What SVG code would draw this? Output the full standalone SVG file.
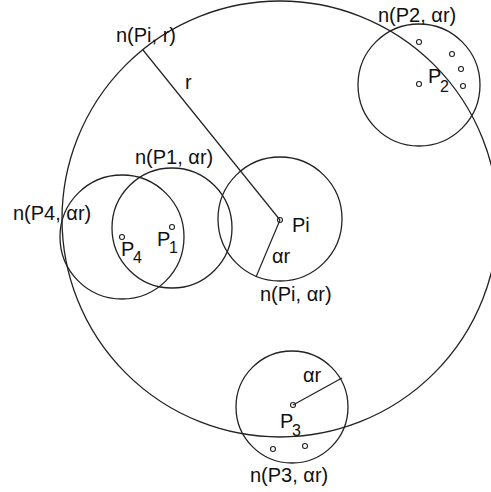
<svg xmlns="http://www.w3.org/2000/svg" width="491" height="492" viewBox="0 0 491 492">
<style>
.c{fill:none;stroke:#222;stroke-width:1.3}
.d{fill:#fff;stroke:#222;stroke-width:1.1}
.l{stroke:#222;stroke-width:1.2;fill:none}
text{font-family:"Liberation Sans",Arial,sans-serif;font-size:20px;fill:#111}
.s{font-size:16px}
</style>
<rect width="491" height="492" fill="#fff"/>
<g id="node-Pi-r">
<circle class="c" cx="280" cy="219" r="218"/>
<text x="116" y="42">n(Pi, r)</text>
</g>
<g id="node-Pi">
<circle class="c" cx="280" cy="219" r="62"/>
<circle class="d" cx="280" cy="220" r="2.5"/>
<text x="292" y="232">Pi</text>
<text x="260" y="301">n(Pi, αr)</text>
</g>
<g id="node-P1">
<circle class="c" cx="172" cy="228" r="60"/>
<circle class="d" cx="172" cy="227" r="2.5"/>
<text x="157" y="246">P</text><text class="s" x="169" y="253">1</text>
<text x="135" y="164">n(P1, αr)</text>
</g>
<g id="node-P4">
<circle class="c" cx="122" cy="237" r="62"/>
<circle class="d" cx="122" cy="237" r="2.5"/>
<text x="121" y="256">P</text><text class="s" x="133" y="263">4</text>
<text x="13" y="220">n(P4, αr)</text>
</g>
<g id="node-P2">
<circle class="c" cx="419" cy="85" r="61"/>
<circle class="d" cx="419" cy="84" r="2.5"/>
<circle class="d" cx="419" cy="42" r="2.5"/>
<circle class="d" cx="452" cy="54" r="2.5"/>
<circle class="d" cx="461" cy="69" r="2.5"/>
<circle class="d" cx="463" cy="86" r="2.5"/>
<text x="428" y="83">P</text><text class="s" x="440" y="92">2</text>
<text x="378" y="22">n(P2, αr)</text>
</g>
<g id="node-P3">
<circle class="c" cx="292" cy="407" r="56"/>
<circle class="d" cx="293" cy="405" r="2.5"/>
<circle class="d" cx="273" cy="449" r="2.5"/>
<circle class="d" cx="305" cy="446" r="2.5"/>
<text x="280" y="428">P</text><text class="s" x="292" y="436">3</text>
<text x="303" y="382">αr</text>
<text x="250" y="482">n(P3, αr)</text>
</g>
<g id="connectors">
<line class="l" x1="280" y1="220" x2="143" y2="50"/>
<line class="l" x1="280" y1="220" x2="256" y2="277"/>
<line class="l" x1="293" y1="405" x2="342" y2="378"/>
<text x="185" y="89">r</text>
<text x="272" y="263">αr</text>
</g>
</svg>
